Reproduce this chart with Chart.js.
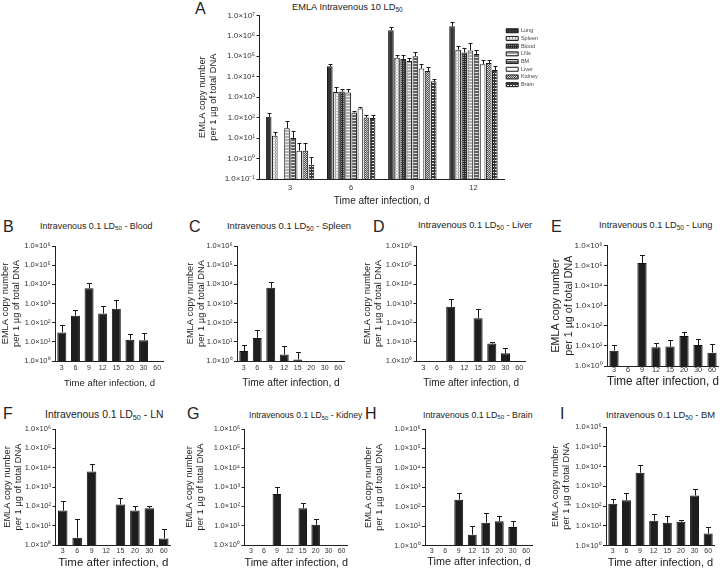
<!DOCTYPE html>
<html lang="en">
<head>
<meta charset="UTF-8">
<title>EMLA copy number after intravenous infection</title>
<script src="https://cdn.jsdelivr.net/npm/chart.js"></script>
<style>
  body {
    margin: 0;
    width: 720px;
    height: 569px;
    position: relative;
    overflow: hidden;
    background: #fff;
    font-family: 'Liberation Sans', Arial, sans-serif;
    color: #222;
  }
  canvas { position: absolute; }
  .letter { position: absolute; font-size: 16px; transform: translateY(-50%); line-height: 1; }
  .ptitle { position: absolute; font-size: 9px; white-space: nowrap; transform: translateY(-50%); line-height: 1; }
  .ptitle sub { font-size: 70%; vertical-align: -0.3em; line-height: 0; }
</style>
</head>
<body>

<div class="letter" style="left:195px; top:9px;">A</div>
<div class="ptitle" style="left:292px; top:8px; font-size:9.3px;">EMLA Intravenous 10 LD<sub>50</sub></div>

<div class="letter" style="left:3px; top:227px;">B</div>
<div class="ptitle" style="left:40px; top:226px; font-size:8.9px;">Intravenous 0.1 LD<sub>50</sub> - Blood</div>
<div class="letter" style="left:189px; top:227px;">C</div>
<div class="ptitle" style="left:227px; top:226px; font-size:9.4px;">Intravenous 0.1 LD<sub>50</sub> - Spleen</div>
<div class="letter" style="left:373px; top:227px;">D</div>
<div class="ptitle" style="left:418px; top:226px; font-size:9.3px;">Intravenous 0.1 LD<sub>50</sub> - Liver</div>
<div class="letter" style="left:551px; top:227px;">E</div>
<div class="ptitle" style="left:599px; top:226px; font-size:9.2px;">Intravenous 0.1 LD<sub>50</sub> - Lung</div>

<div class="letter" style="left:3px; top:414px;">F</div>
<div class="ptitle" style="left:45px; top:415px; font-size:10.4px;">Intravenous 0.1 LD<sub>50</sub> - LN</div>
<div class="letter" style="left:187px; top:414px;">G</div>
<div class="ptitle" style="left:249px; top:415px; font-size:8.6px;">Intravenous 0.1 LD<sub>50</sub> - Kidney</div>
<div class="letter" style="left:365px; top:414px;">H</div>
<div class="ptitle" style="left:423px; top:415px; font-size:8.8px;">Intravenous 0.1 LD<sub>50</sub> - Brain</div>
<div class="letter" style="left:560px; top:414px;">I</div>
<div class="ptitle" style="left:606px; top:415px; font-size:9.4px;">Intravenous 0.1 LD<sub>50</sub> - BM</div>

<canvas id="chartA"></canvas>
<canvas id="chartB"></canvas>
<canvas id="chartC"></canvas>
<canvas id="chartD"></canvas>
<canvas id="chartE"></canvas>
<canvas id="chartF"></canvas>
<canvas id="chartG"></canvas>
<canvas id="chartH"></canvas>
<canvas id="chartI"></canvas>

<script>
// ---- panel A: 10 LD50, copy number per tissue at days 3, 6, 9, 12
const daysA = ['3', '6', '9', '12'];
const tissuesA = ['Lung', 'Spleen', 'Blood', 'LNs', 'BM', 'Liver', 'Kidney', 'Brain'];
const lungA      = [110, 32000, 1850000, 2900000];
const lungErrA   = [160, 44000, 2700000, 4600000];
const spleenA    = [13, 1800, 85000, 210000];
const spleenErrA = [20, 3000, 120000, 320000];
const bloodA     = [null, 1900, 74000, 150000];
const bloodErrA  = [null, 2600, 120000, 250000];
const lnsA       = [30, 1700, 58000, 190000];
const lnsErrA    = [70, 2600, 85000, 420000];
const bmA        = [10, 180, 100000, 130000];
const bmErrA     = [23, 200, 160000, 195000];
const liverA     = [2.4, 280, 25000, 41000];
const liverErrA  = [5.5, 340, 44000, 69000];
const kidneyA    = [2.4, 100, 19000, 47000];
const kidneyErrA = [5.9, 140, 30000, 69000];
const brainA     = [0.5, 95, 6000, 21000];
const brainErrA  = [1.2, 140, 7800, 32000];
const yTicksA = [0.1, 1, 10, 100, 1e3, 1e4, 1e5, 1e6, 1e7];

// ---- panels B-I: 0.1 LD50, one tissue each
const daysLow = ['3', '6', '9', '12', '15', '20', '30', '60'];
const yTicksLow = [1, 10, 100, 1e3, 1e4, 1e5, 1e6];
const bloodLow     = [31, 230, 6200, 300, 530, 13, 12, null];
const bloodErrLow  = [76, 440, 12300, 740, 1450, 25, 28, null];
const spleenLow    = [3.3, 16, 6600, 2.2, 1.2, null, null, null];
const spleenErrLow = [6.9, 43, 14000, 5.9, 3.0, null, null, null];
const liverLow     = [null, null, 670, null, 170, 8.1, 2.5, null];
const liverErrLow  = [null, null, 1660, null, 490, 10, 4.8, null];
const lungLow      = [5.8, null, 130000, 8.5, 9.2, 31, 11, 4.6];
const lungErrLow   = [11, null, 320000, 14.5, 19.5, 50, 22, 13];
const lnLow        = [60, 2.4, 6300, null, 125, 60, 80, 2.2];
const lnErrLow     = [178, 22, 15000, null, 263, 105, 110, 6.5];
const kidneyLow    = [null, null, 440, null, 80, 11, null, null];
const kidneyErrLow = [null, null, 1050, null, 145, 21, null, null];
const brainLow     = [null, null, 230, 3.6, 15, 18, 9, null];
const brainErrLow  = [null, null, 525, 9.8, 45, 33, 19, null];
const bmLow        = [130, 195, 4800, 18, 14, 16, 340, 4];
const bmErrLow     = [230, 430, 11500, 38, 32, 20, 720, 8.5];

Chart.defaults.font.family = "'Liberation Sans', Arial, sans-serif";
Chart.defaults.color = '#222';
Chart.defaults.animation = false;

const SUP = { '-': '⁻', '0': '⁰', '1': '¹', '2': '²', '3': '³', '4': '⁴', '5': '⁵', '6': '⁶', '7': '⁷', '8': '⁸', '9': '⁹' };
const sciLabel = v => '1.0×10' + String(Math.round(Math.log10(v))).split('').map(c => SUP[c]).join('');

// upper error bars, drawn from the bar top to the err value
const errorBars = {
  id: 'errorBars',
  afterDatasetsDraw(chart, args, opts) {
    const { ctx } = chart;
    const ys = chart.scales.y;
    ctx.save();
    ctx.strokeStyle = '#1a1a1a';
    ctx.lineWidth = 1;
    chart.data.datasets.forEach((ds, i) => {
      if (!ds.err) return;
      chart.getDatasetMeta(i).data.forEach((bar, j) => {
        if (ds.data[j] == null || ds.err[j] == null) return;
        const yt = Math.round(ys.getPixelForValue(ds.err[j])) + 0.5;
        const x = Math.round(bar.x) + 0.5;
        ctx.beginPath();
        ctx.moveTo(x, bar.y);
        ctx.lineTo(x, yt);
        ctx.moveTo(x - opts.cap, yt);
        ctx.lineTo(x + opts.cap, yt);
        ctx.stroke();
      });
    });
    ctx.restore();
  }
};

function yAxis(ticks, width, tickSize, titleSize) {
  return {
    type: 'logarithmic',
    min: ticks[0],
    max: ticks[ticks.length - 1],
    afterBuildTicks: s => { s.ticks = ticks.map(v => ({ value: v })); },
    afterFit: s => { s.width = width; },
    ticks: { callback: sciLabel, font: { size: tickSize }, padding: 1.5, autoSkip: false, color: '#333' },
    grid: { drawOnChartArea: false, drawTicks: true, tickLength: 3, color: '#222' },
    border: { color: '#222' },
    title: { display: true, text: ['EMLA copy number', 'per 1 µg of total DNA'], font: { size: titleSize }, padding: 0 }
  };
}

function xAxis(height, tickSize, tickPad, titleSize) {
  return {
    afterFit: s => { s.height = height; },
    ticks: { font: { size: tickSize }, padding: tickPad, maxRotation: 0, autoSkip: false, color: '#333' },
    grid: { display: false, drawTicks: false },
    border: { color: '#222' },
    title: { display: true, text: 'Time after infection, d', font: { size: titleSize }, padding: 0 }
  };
}

// place a canvas so the plot area lands on (L,T)-(R,Bt)
function place(id, g) {
  const cv = document.getElementById(id);
  const left = Math.round(g.yTitleX - g.fyTitle * 0.6);
  const top = Math.round(g.T - 6);
  const bottom = g.xTitleY + g.fxTitle * 0.6;
  cv.width = Math.round(g.R - left + (g.extraRight || 0));
  cv.height = Math.round(bottom - top);
  cv.style.left = left + 'px';
  cv.style.top = top + 'px';
  return {
    cv,
    padTop: g.T - top,
    yWidth: g.L - left,
    xHeight: top + cv.height - g.Bt,
    xPad: g.xLabelY - g.Bt - g.fxTick * 0.6
  };
}

function makePattern(ctx, size, bg, draw) {
  const c = document.createElement('canvas');
  c.width = c.height = size;
  const p = c.getContext('2d');
  p.fillStyle = bg;
  p.fillRect(0, 0, size, size);
  draw(p);
  return ctx.createPattern(c, 'repeat');
}

// ---- panel A (legend box is fixed at 42px to the right of the plot)
const legendWidthA = 42;
const gA = { L: 259.5, R: 504, T: 15, Bt: 179, yTitleX: 203, fyTitle: 9.3, xLabelY: 187.7, fxTick: 7.5, xTitleY: 201, fxTitle: 10, extraRight: legendWidthA };
const pA = place('chartA', gA);
const ctxA = pA.cv.getContext('2d');
const fillsA = [
  '#333',
  makePattern(ctxA, 3, '#f2f2f2', p => { p.fillStyle = '#9a9a9a'; p.fillRect(0, 0, 1, 3); p.fillStyle = '#c4c4c4'; p.fillRect(0, 0, 3, 1); }),
  makePattern(ctxA, 2, '#2e2e2e', p => { p.fillStyle = '#8a8a8a'; p.fillRect(0, 0, 1, 1); }),
  makePattern(ctxA, 3, '#b0b0b0', p => { p.fillStyle = '#eeeeee'; p.fillRect(0, 0, 3, 1); }),
  makePattern(ctxA, 3, '#606060', p => { p.fillStyle = '#dddddd'; p.fillRect(0, 0, 3, 1); }),
  '#fff',
  makePattern(ctxA, 2, '#555', p => { p.fillStyle = '#cfcfcf'; p.fillRect(0, 0, 1, 1); p.fillRect(1, 1, 1, 1); }),
  makePattern(ctxA, 3, '#3a3a3a', p => { p.fillStyle = '#eeeeee'; p.fillRect(1, 1, 2, 1); })
];
const valuesA = [lungA, spleenA, bloodA, lnsA, bmA, liverA, kidneyA, brainA];
const errorsA = [lungErrA, spleenErrA, bloodErrA, lnsErrA, bmErrA, liverErrA, kidneyErrA, brainErrA];

new Chart(ctxA, {
  type: 'bar',
  data: {
    labels: daysA,
    datasets: tissuesA.map((t, i) => ({
      label: t,
      data: valuesA[i],
      err: errorsA[i],
      backgroundColor: fillsA[i],
      borderColor: '#1a1a1a',
      borderWidth: 1,
      categoryPercentage: 0.8,
      barPercentage: 0.92
    }))
  },
  options: {
    responsive: false,
    layout: { padding: { top: pA.padTop, left: 0, right: 0, bottom: 0 } },
    scales: {
      x: xAxis(pA.xHeight, 7.5, pA.xPad, 10),
      y: yAxis(yTicksA, pA.yWidth, 8, 9.3)
    },
    plugins: {
      legend: {
        position: 'right',
        align: 'start',
        maxWidth: legendWidthA,
        title: { display: true, text: '', font: { size: 1 }, padding: { top: 0, bottom: 9.6 } },
        labels: { boxWidth: 12, boxHeight: 4, font: { size: 5.5 }, padding: 2.2, color: '#444' }
      },
      tooltip: { enabled: false },
      errorBars: { cap: 2 }
    }
  },
  plugins: [errorBars]
});

// ---- panels B-I
const lowPanels = [
  { id: 'chartB', data: bloodLow,  err: bloodErrLow,  g: { L: 55,    R: 164,   T: 245.5, Bt: 361,   yTitleX: 6,     fyTitle: 9.3,  xLabelY: 368,   fxTick: 7,   xTitleY: 383,   fxTitle: 9.5,  fyTick: 7.5 } },
  { id: 'chartC', data: spleenLow, err: spleenErrLow, g: { L: 237,   R: 344.5, T: 245.5, Bt: 361,   yTitleX: 190.5, fyTitle: 9.3,  xLabelY: 368,   fxTick: 7,   xTitleY: 383,   fxTitle: 10.2, fyTick: 7.5 } },
  { id: 'chartD', data: liverLow,  err: liverErrLow,  g: { L: 416.5, R: 526,   T: 245.5, Bt: 361,   yTitleX: 368,   fyTitle: 9.3,  xLabelY: 368,   fxTick: 7,   xTitleY: 383,   fxTitle: 10,   fyTick: 7.5 } },
  { id: 'chartE', data: lungLow,   err: lungErrLow,   g: { L: 607,   R: 719,   T: 245,   Bt: 366,   yTitleX: 556,   fyTitle: 10.7, xLabelY: 370,   fxTick: 7.3, xTitleY: 381.5, fxTitle: 12,   fyTick: 8 } },
  { id: 'chartF', data: lnLow,     err: lnErrLow,     g: { L: 55.5,  R: 170.5, T: 429,   Bt: 545,   yTitleX: 8,     fyTitle: 9.3,  xLabelY: 551,   fxTick: 7,   xTitleY: 563,   fxTitle: 11.5, fyTick: 7.5 } },
  { id: 'chartG', data: kidneyLow, err: kidneyErrLow, g: { L: 244.5, R: 348,   T: 428.5, Bt: 545,   yTitleX: 189.5, fyTitle: 9.3,  xLabelY: 551,   fxTick: 7,   xTitleY: 563,   fxTitle: 11,   fyTick: 7.5 } },
  { id: 'chartH', data: brainLow,  err: brainErrLow,  g: { L: 425,   R: 533,   T: 428.5, Bt: 545.5, yTitleX: 369,   fyTitle: 9.3,  xLabelY: 551,   fxTick: 7,   xTitleY: 563,   fxTitle: 10.8, fyTick: 7.5 } },
  { id: 'chartI', data: bmLow,     err: bmErrLow,     g: { L: 606,   R: 714.5, T: 426.5, Bt: 545.5, yTitleX: 555.5, fyTitle: 9.3,  xLabelY: 551,   fxTick: 7,   xTitleY: 563,   fxTitle: 11,   fyTick: 7.5 } }
];

lowPanels.forEach(pn => {
  const p = place(pn.id, pn.g);
  new Chart(p.cv.getContext('2d'), {
    type: 'bar',
    data: {
      labels: daysLow,
      datasets: [{
        data: pn.data,
        err: pn.err,
        backgroundColor: '#1e1e1e',
        borderColor: '#111',
        borderWidth: 1,
        categoryPercentage: 1,
        barPercentage: 0.66
      }]
    },
    options: {
      responsive: false,
      layout: { padding: { top: p.padTop, left: 0, right: 0, bottom: 0 } },
      scales: {
        x: xAxis(p.xHeight, pn.g.fxTick, p.xPad, pn.g.fxTitle),
        y: yAxis(yTicksLow, p.yWidth, pn.g.fyTick, pn.g.fyTitle)
      },
      plugins: {
        legend: { display: false },
        tooltip: { enabled: false },
        errorBars: { cap: 2.5 }
      }
    },
    plugins: [errorBars]
  });
});
</script>
</body>
</html>
